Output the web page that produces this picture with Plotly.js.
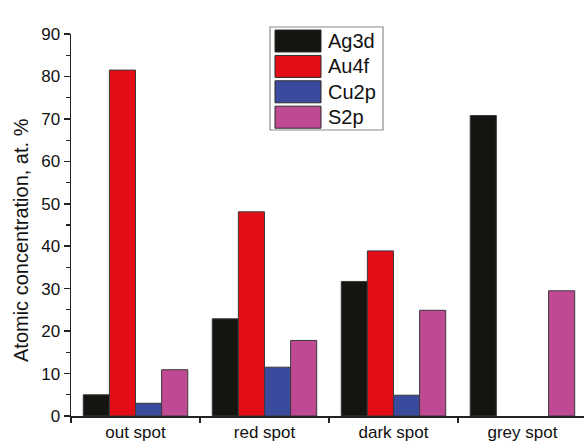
<!DOCTYPE html>
<html>
<head>
<meta charset="utf-8">
<script src="https://cdn.plot.ly/plotly-3.0.1.min.js"></script>
<style>
  html, body { margin: 0; padding: 0; background: #fff; }
  #chart { width: 584px; height: 441px; }
</style>
</head>
<body>
<div id="chart"></div>
<script>
// Sample locations and XPS atomic concentrations (at. %)
const spots = ["out spot", "red spot", "dark spot", "grey spot"];
const seriesNames = ["Ag3d", "Au4f", "Cu2p", "S2p"];
const ag3d = [5.0, 22.9, 31.7, 70.8];
const au4f = [81.5, 48.1, 38.9, 0];
const cu2p = [3.0, 11.5, 4.9, 0];
const s2p  = [10.9, 17.8, 24.9, 29.5];
const seriesColors = ["#141411", "#e30d17", "#3a4a9d", "#c04993"];
const yTitle = "Atomic concentration, at. %";

const seriesValues = [ag3d, au4f, cu2p, s2p];
const FONT = "Liberation Sans, Arial, sans-serif";

const traces = seriesNames.map((name, i) => ({
  type: "bar",
  name: name,
  x: spots,
  y: seriesValues[i],
  marker: {
    color: seriesColors[i],
    // no outline on empty (zero) bars
    line: { color: "#3a3a3a", width: seriesValues[i].map(v => (v > 0 ? 1 : 0)) }
  },
  showlegend: false,
  hoverinfo: "x+y+name"
}));

// Plot box geometry (pixels) used to place the legend box and axis title
const W = 584, H = 441;
const M = { l: 71, r: 0, t: 34, b: 25 };
const plotW = W - M.l - M.r, plotH = H - M.t - M.b;
const px = x => (x - M.l) / plotW;
const py = y => (H - M.b - y) / plotH;

// Legend: framed box with wide colour swatches
const shapes = [{
  type: "rect", xref: "paper", yref: "paper",
  x0: px(270), x1: px(383), y0: py(130), y1: py(27),
  line: { color: "#8a8a8a", width: 1.2 }, fillcolor: "#ffffff", layer: "above"
}];
const annotations = [];
seriesNames.forEach((name, i) => {
  const top = 30 + i * 25.4;
  shapes.push({
    type: "rect", xref: "paper", yref: "paper",
    x0: px(275), x1: px(321), y0: py(top + 22), y1: py(top),
    line: { color: "#2a2a2a", width: 1 }, fillcolor: seriesColors[i], layer: "above"
  });
  annotations.push({
    xref: "paper", yref: "paper", x: px(326), y: py(top + 11),
    xanchor: "left", yanchor: "middle", showarrow: false,
    text: name, font: { family: FONT, size: 20, color: "#111" }
  });
});

// Vertical axis title
annotations.push({
  xref: "paper", yref: "paper", x: px(21), y: py(240),
  xanchor: "center", yanchor: "middle", showarrow: false, textangle: -90,
  text: yTitle, font: { family: FONT, size: 20, color: "#111" }
});

const layout = {
  width: W, height: H,
  margin: M,
  paper_bgcolor: "#ffffff",
  plot_bgcolor: "#ffffff",
  barmode: "group",
  bargap: 0.19,
  bargroupgap: 0,
  font: { family: FONT, color: "#111" },
  xaxis: {
    type: "category",
    range: [-0.5, 3.477],
    tickson: "boundaries",
    ticks: "outside", ticklen: 5, tickwidth: 1.5, tickcolor: "#222",
    showline: true, linecolor: "#222", linewidth: 1.5,
    showgrid: false, zeroline: false,
    tickfont: { family: FONT, size: 17, color: "#111" }
  },
  yaxis: {
    range: [0, 90],
    tickvals: [0, 10, 20, 30, 40, 50, 60, 70, 80, 90],
    ticks: "outside", ticklen: 6, tickwidth: 1.5, tickcolor: "#222",
    minor: { dtick: 5, ticks: "outside", ticklen: 4, tickwidth: 1.2, tickcolor: "#222" },
    showline: true, linecolor: "#222", linewidth: 1.5,
    showgrid: false, zeroline: false,
    tickfont: { family: FONT, size: 17, color: "#111" }
  },
  shapes: shapes,
  annotations: annotations,
  showlegend: false
};

Plotly.newPlot("chart", traces, layout, { displayModeBar: false, staticPlot: true });
</script>
</body>
</html>
